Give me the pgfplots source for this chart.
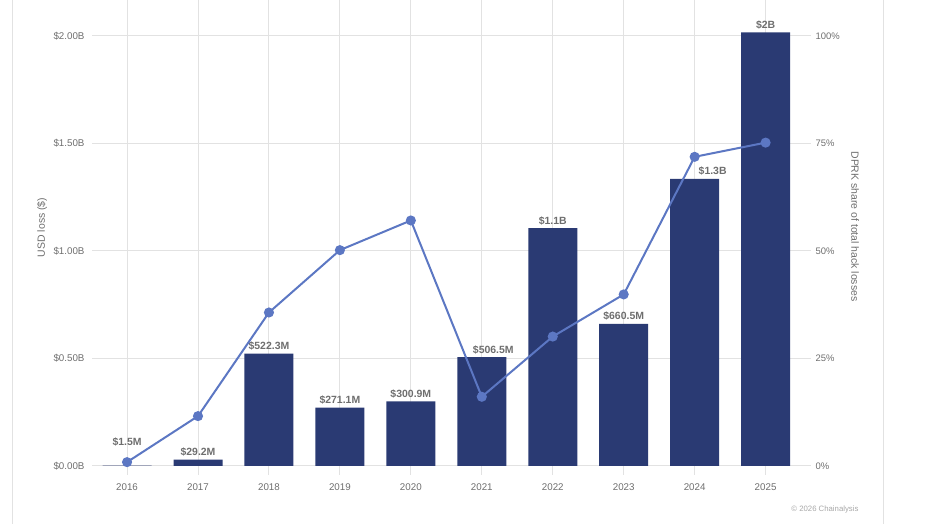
\documentclass[border=0pt]{standalone}
\usepackage{fontspec}
\setmainfont{Liberation Sans}
\usepackage{pgfplots}
\pgfplotsset{compat=1.18}
\definecolor{barc}{HTML}{2A3A73}
\definecolor{linec}{HTML}{5C77C3}
\definecolor{gridc}{HTML}{E2E2E2}
\definecolor{txt}{HTML}{6E6E6E}
\definecolor{copyc}{HTML}{A8A8A8}
\begin{document}
\begin{tikzpicture}
\useasboundingbox (0bp,0bp) rectangle (926bp,524bp);
\draw[gridc, line width=1bp] (12.5bp,0bp) -- (12.5bp,524bp);
\draw[gridc, line width=1bp] (883bp,0bp) -- (883bp,524bp);
\begin{axis}[
  at={(92bp,58bp)}, anchor=south west,
  scale only axis, width=719bp, height=458bp,
  xmin=-0.494, xmax=9.64, ymin=0, ymax=2.1302,
  clip=false,
  axis line style={draw=none},
  xtick={0,1,2,3,4,5,6,7,8,9},
  xticklabels={2016,2017,2018,2019,2020,2021,2022,2023,2024,2025},
  ytick={0,0.5,1,1.5,2},
  yticklabels={\$0.00B,\$0.50B,\$1.00B,\$1.50B,\$2.00B},
  grid=major,
  major grid style={gridc, line width=1bp},
  tick align=outside,
  major tick length=9bp,
  xtick style={gridc, line width=1bp},
  ytick style={draw=none},
  ticklabel style={font=\fontsize{9.8}{11}\selectfont, text=txt},
  xticklabel style={yshift=-5bp},
  yticklabel style={xshift=5bp},
  ylabel={USD loss (\$)},
  ylabel style={at={(axis description cs:-0.0695,0.521)}, rotate=0, anchor=center, font=\fontsize{10.5}{12}\selectfont, text=txt},
]
\addplot[ybar, bar width=49bp, fill=barc, draw=none, bar shift=0pt] coordinates {
(0,0.0015) (1,0.0292) (2,0.5223) (3,0.2711) (4,0.3009)
(5,0.5065) (6,1.106) (7,0.6605) (8,1.335) (9,2.017)};
\begin{scope}[every node/.style={anchor=base, font=\fontsize{10.5}{12}\selectfont\bfseries, text=txt, inner sep=0pt}]
\node[yshift=20bp] at (axis cs:0,0.0015) {\$1.5M};
\node[yshift=4bp] at (axis cs:1,0.0292) {\$29.2M};
\node[yshift=4bp] at (axis cs:2,0.5223) {\$522.3M};
\node[yshift=4bp] at (axis cs:3,0.2711) {\$271.1M};
\node[yshift=4bp] at (axis cs:4,0.3009) {\$300.9M};
\node[yshift=4bp, xshift=11.5bp] at (axis cs:5,0.5065) {\$506.5M};
\node[yshift=4bp] at (axis cs:6,1.106) {\$1.1B};
\node[yshift=4bp] at (axis cs:7,0.6605) {\$660.5M};
\node[yshift=4bp, xshift=18bp] at (axis cs:8,1.335) {\$1.3B};
\node[yshift=4bp] at (axis cs:9,2.017) {\$2B};
\end{scope}
\end{axis}
\begin{axis}[
  at={(92bp,58bp)}, anchor=south west,
  scale only axis, width=719bp, height=458bp,
  xmin=-0.494, xmax=9.64, ymin=0, ymax=106.51,
  clip=false,
  axis line style={draw=none},
  axis y line*=right,
  xtick=\empty,
  ytick={0,25,50,75,100},
  yticklabels={0\%,25\%,50\%,75\%,100\%},
  ytick style={draw=none},
  ticklabel style={font=\fontsize{9.5}{11}\selectfont, text=txt},
  yticklabel style={xshift=1bp},
  ylabel={DPRK share of total hack losses},
  ylabel style={at={(axis description cs:1.0612,0.523)}, rotate=180, anchor=center, font=\fontsize{10.5}{12}\selectfont, text=txt},
]
\addplot[linec, line width=2bp, mark=*, mark size=4bp, mark options={fill=linec, draw=linec}] coordinates {
(0,0.9) (1,11.6) (2,35.7) (3,50.2) (4,57.1)
(5,16.1) (6,30.1) (7,39.9) (8,71.9) (9,75.2)};
\end{axis}
\node[anchor=east, font=\fontsize{7.8}{9}\selectfont, text=copyc] at (862bp,15bp) {© 2026 Chainalysis};
\end{tikzpicture}
\end{document}
